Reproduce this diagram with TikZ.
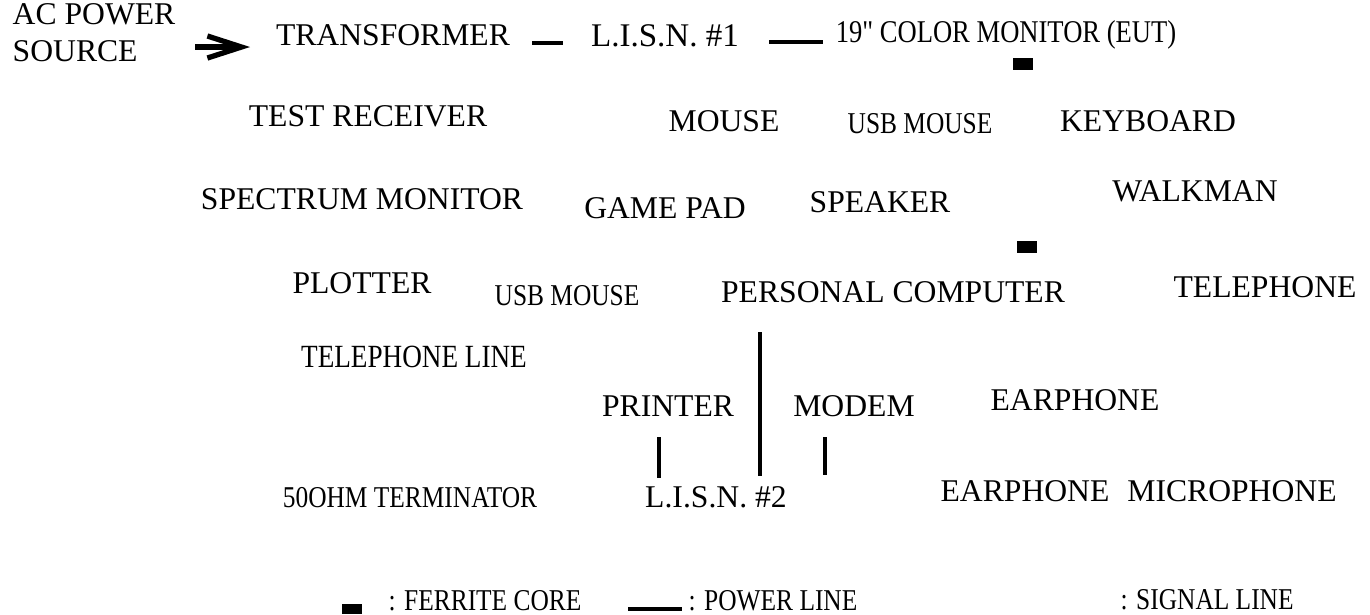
\documentclass[tikz,border=0pt]{standalone}
\usepackage{fontspec}
\setmainfont{Liberation Serif}
\newfontfamily\narrowfont[FakeStretch=0.84]{Liberation Serif}
\usetikzlibrary{arrows.meta}

\tikzset{
  unit/.style={inner sep=0pt, font=\fontsize{9}{10.5}\selectfont},
  small/.style={inner sep=0pt, font=\narrowfont\fontsize{8.6}{9.5}\selectfont},
  power/.style={line width=0.9pt},
  ferrite/.style={fill=black, minimum width=5.6pt, minimum height=3.2pt, inner sep=0pt},
}

\begin{document}
\begin{tikzpicture}[x=0.01cm, y=-0.01cm]
  \useasboundingbox (0,0) rectangle (1370,614);

  % top row
  \node[unit, align=left, anchor=west] (ac) at (12, 33) {AC POWER\\SOURCE};
  \node[unit] (tr) at (393, 35) {TRANSFORMER};
  \node[unit, font=\fontsize{9.4}{10.5}\selectfont] (lisn1) at (665, 36) {L.I.S.N. \#1};
  \node[inner sep=0pt, font=\narrowfont\fontsize{9}{10}\selectfont] (eut) at (1006, 35) {19" COLOR MONITOR (EUT)};
  \node[ferrite] (fc1) at (1023, 64) {};

  % second row
  \node[unit] (rx) at (368, 116) {TEST RECEIVER};
  \node[unit] (mouse) at (724, 121) {MOUSE};
  \node[small] (usb1) at (920, 124) {USB MOUSE};
  \node[unit] (kb) at (1148, 121) {KEYBOARD};

  % third row
  \node[unit] (spec) at (362, 199) {SPECTRUM MONITOR};
  \node[unit] (pad) at (665, 208) {GAME PAD};
  \node[unit] (spk) at (880, 202) {SPEAKER};
  \node[unit] (walk) at (1195, 191) {WALKMAN};
  \node[ferrite] (fc2) at (1027, 247) {};

  % fourth row
  \node[unit] (plot) at (362, 283) {PLOTTER};
  \node[small] (usb2) at (567, 296) {USB MOUSE};
  \node[unit] (pc) at (893, 292) {PERSONAL COMPUTER};
  \node[unit] (tel) at (1265, 287) {TELEPHONE};
  \node[small, font=\narrowfont\fontsize{9.2}{10}\selectfont] (tline) at (414, 357) {TELEPHONE LINE};

  % lower rows
  \node[unit] (prn) at (668, 406) {PRINTER};
  \node[unit] (modem) at (854, 406) {MODEM};
  \node[unit] (ear1) at (1075, 400) {EARPHONE};
  \node[small] (term) at (410, 498) {50OHM TERMINATOR};
  \node[unit] (lisn2) at (716, 497) {L.I.S.N. \#2};
  \node[unit] (ear2) at (1025, 491) {EARPHONE};
  \node[unit] (mic) at (1232, 491) {MICROPHONE};

  % legend
  \node[ferrite, minimum height=2.8pt] (keyfc) at (352, 609) {};
  \node[small, anchor=west] (keyfct) at (388, 601) {: FERRITE CORE};
  \coordinate (keypw) at (628, 609);
  \node[small, anchor=west] (keypwt) at (688, 601) {: POWER LINE};
  \node[small, anchor=west] (keysg) at (1120, 600) {: SIGNAL LINE};

  % power lines
  \draw [line width=1.5pt, -{Straight Barb[length=3.4mm, width=2.2mm]}] (195, 47) -- (250, 47);
  \draw [power] ([xshift=-0.58cm, yshift=-0.07cm]lisn1.west) -- ([xshift=-0.27cm, yshift=-0.07cm]lisn1.west);
  \draw [power] ([xshift=-0.66cm, yshift=-0.07cm]eut.west) -- ([xshift=-0.12cm, yshift=-0.07cm]eut.west);
  \coordinate (pcdrop) at (760, 332);
  \draw [power] (pcdrop) -- ([yshift=0.1cm]pcdrop |- lisn2.north);
  \draw [power, shorten <=0.2cm, shorten >=0.08cm] ([xshift=-0.09cm]prn.south) -- ([xshift=-0.09cm]prn.south |- lisn2.north);
  \draw [power, shorten <=0.2cm, shorten >=0.11cm] ([xshift=-0.29cm]modem.south) -- ([xshift=-0.29cm]modem.south |- lisn2.north);
  \draw [power] (keypw) -- ++(54, 0);
\end{tikzpicture}
\end{document}
